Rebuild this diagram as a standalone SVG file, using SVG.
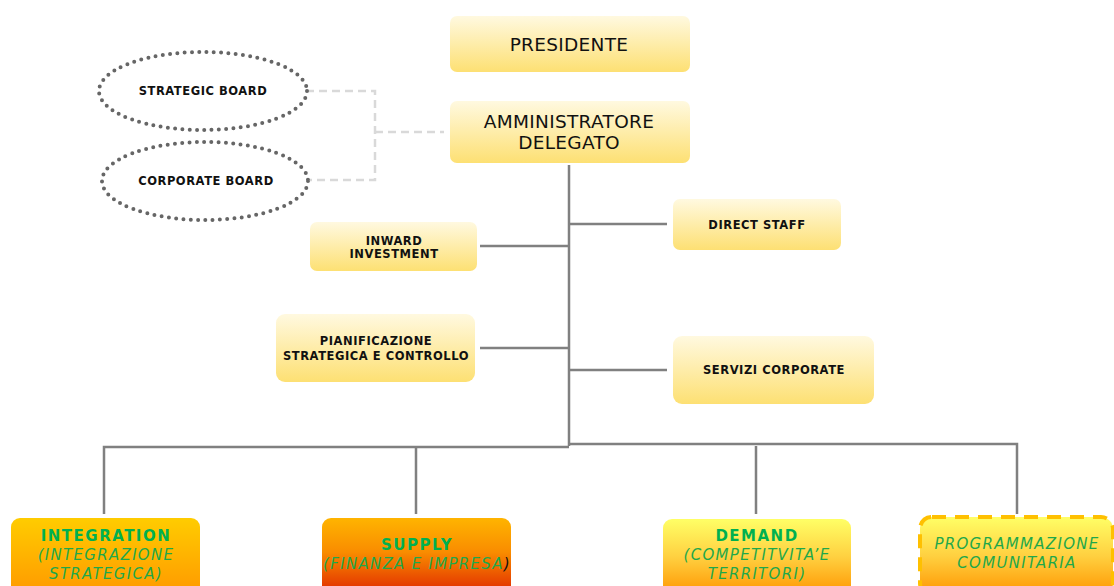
<svg xmlns="http://www.w3.org/2000/svg" width="1114" height="586" viewBox="0 0 1114 586">
<defs>
<linearGradient id="gy" x1="0" y1="0" x2="0" y2="1"><stop offset="0" stop-color="#fff9e0"/><stop offset="1" stop-color="#fde073"/></linearGradient>
<linearGradient id="gi" x1="0" y1="0" x2="0" y2="1"><stop offset="0" stop-color="#ffcc00"/><stop offset="1" stop-color="#ff9900"/></linearGradient>
<linearGradient id="gs" x1="0" y1="0" x2="0" y2="1"><stop offset="0" stop-color="#ffb400"/><stop offset="0.45" stop-color="#f98c00"/><stop offset="1" stop-color="#e02800"/></linearGradient>
<linearGradient id="gd" x1="0" y1="0" x2="0" y2="1"><stop offset="0" stop-color="#ffff66"/><stop offset="0.5" stop-color="#ffd040"/><stop offset="1" stop-color="#ff9500"/></linearGradient>
<style>
.box{fill:url(#gy);}
.t{font-family:"DejaVu Sans",Verdana,sans-serif;fill:#111;text-anchor:middle;}
.b{font-weight:bold;font-size:11.5px;letter-spacing:0.55px;}
.big{font-size:18.5px;letter-spacing:0.3px;}
.g{fill:#00b050;font-weight:bold;font-size:15px;letter-spacing:1.5px;}
.gi{fill:#1fa84a;font-style:italic;font-size:15px;letter-spacing:1.3px;}
.ell{fill:none;stroke:#666;stroke-width:4;stroke-linecap:round;stroke-dasharray:0 7.3;}
.conn{fill:none;stroke:#808080;stroke-width:2.5;}
.dash{fill:none;stroke:#d9d9d9;stroke-width:2.5;stroke-dasharray:8 5;}
</style>
</defs>
<g id="connectors">
<path class="dash" d="M306 91 H375 V180 H306 M375 132 H444"/>
<path class="conn" d="M569 165 V446" stroke-width="3"/>
<path class="conn" d="M569 224 H667 M480 246 H569 M480 348 H569 M569 370 H667"/>
<path class="conn" d="M104 514 V447 H569 M416 514 V447 M569 444 H1017 V514 M756 514 V446" stroke-width="2.5"/>
</g>
<g id="strategic-board"><ellipse class="ell" cx="203" cy="91" rx="104" ry="39"/><text class="t b" x="203" y="95">STRATEGIC BOARD</text></g>
<g id="corporate-board"><ellipse class="ell" cx="205" cy="181" rx="103" ry="39"/><text class="t b" x="206" y="185">CORPORATE BOARD</text></g>
<g id="presidente"><rect class="box" x="450" y="16" width="240" height="56" rx="7"/><text class="t big" x="569" y="51">PRESIDENTE</text></g>
<g id="amministratore"><rect class="box" x="450" y="101" width="240" height="62" rx="7"/><text class="t big" x="569" y="128">AMMINISTRATORE</text><text class="t big" x="569" y="149">DELEGATO</text></g>
<g id="inward"><rect class="box" x="310" y="222" width="167" height="49" rx="7"/><text class="t b" x="394" y="245">INWARD</text><text class="t b" x="394" y="258">INVESTMENT</text></g>
<g id="direct-staff"><rect class="box" x="673" y="199" width="168" height="51" rx="7"/><text class="t b" x="757" y="229">DIRECT STAFF</text></g>
<g id="pianificazione"><rect class="box" x="276" y="314" width="199" height="68" rx="9"/><text class="t b" x="376" y="345">PIANIFICAZIONE</text><text class="t b" x="376" y="360">STRATEGICA E CONTROLLO</text></g>
<g id="servizi"><rect class="box" x="673" y="336" width="201" height="68" rx="9"/><text class="t b" x="774" y="374">SERVIZI CORPORATE</text></g>
<g id="integration"><rect x="11" y="518" width="189" height="76" rx="9" fill="url(#gi)"/><text class="t g" x="106" y="541">INTEGRATION</text><text class="t gi" x="106" y="560">(INTEGRAZIONE</text><text class="t gi" x="106" y="579">STRATEGICA)</text></g>
<g id="supply"><rect x="322" y="518" width="189" height="76" rx="9" fill="url(#gs)"/><text class="t g" x="417" y="550">SUPPLY</text><text class="t gi" x="417" y="569">(FINANZA E IMPRESA<tspan fill="#111">)</tspan></text></g>
<g id="demand"><rect x="663" y="519" width="188" height="76" rx="9" fill="url(#gd)"/><text class="t g" x="757" y="541">DEMAND</text><text class="t gi" x="757" y="560">(COMPETITVITA’E</text><text class="t gi" x="757" y="579">TERRITORI)</text></g>
<g id="programmazione"><rect x="920" y="517" width="193" height="78" rx="12" fill="url(#gd)" stroke="#ffc000" stroke-width="4" stroke-dasharray="14 9"/><text class="t gi" x="1017" y="549">PROGRAMMAZIONE</text><text class="t gi" x="1017" y="568">COMUNITARIA</text></g>
</svg>
